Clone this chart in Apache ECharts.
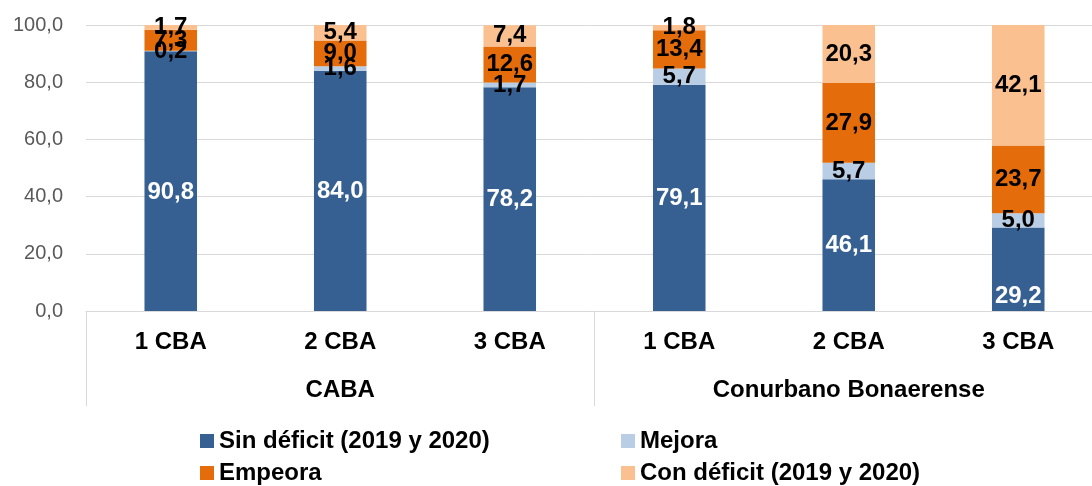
<!DOCTYPE html>
<html>
<head>
<meta charset="utf-8">
<script src="https://cdn.jsdelivr.net/npm/echarts@6/dist/echarts.min.js"></script>
<style>
html,body{margin:0;padding:0;background:#fff;}
#box{width:1092px;height:486px;}
</style>
</head>
<body>
<div id="box"></div>
<script>
// datos
var categorias = ['1 CBA', '2 CBA', '3 CBA', '1 CBA', '2 CBA', '3 CBA'];
var grupos = ['CABA', 'Conurbano Bonaerense'];
var sinDeficit = [90.8, 84.0, 78.2, 79.1, 46.1, 29.2];
var mejora = [0.2, 1.6, 1.7, 5.7, 5.7, 5.0];
var empeora = [7.3, 9.0, 12.6, 13.4, 27.9, 23.7];
var conDeficit = [1.7, 5.4, 7.4, 1.8, 20.3, 42.1];
var ticksY = [0, 20, 40, 60, 80, 100];

function coma(v) {
    return Number(v).toFixed(1).replace('.', ',');
}

var fuente = 'Liberation Sans, Arial, sans-serif';

function serie(nombre, datos, color, colorTexto) {
    return {
        name: nombre,
        type: 'bar',
        stack: 'total',
        barWidth: '31%',
        data: datos,
        itemStyle: { color: color },
        label: {
            show: true,
            position: 'inside',
            color: colorTexto,
            fontFamily: fuente,
            fontWeight: 'bold',
            fontSize: 24,
            formatter: function (p) { return coma(p.value); }
        }
    };
}

function leyenda(nombre, left, top) {
    return {
        data: [nombre],
        left: left,
        top: top,
        itemWidth: 14,
        itemHeight: 14,
        itemGap: 4,
        icon: 'rect',
        textStyle: { fontFamily: fuente, fontWeight: 'bold', fontSize: 24, color: '#000' }
    };
}

// el 29,2 y el 90,8 estan desplazados hacia abajo en el original
var sinData = sinDeficit.map(function (v, i) {
    if (i === 5) return { value: v, label: { offset: [0, 27] } };
    if (i === 0) return { value: v, label: { offset: [0, 11] } };
    return v;
});

var option = {
    animation: false,
    grid: { left: 86, top: 25, bottom: 175, width: 1017, outerBoundsMode: 'none', containLabel: false },
    legend: [
        leyenda('Sin déficit (2019 y 2020)', 195, 424),
        leyenda('Mejora', 616, 424),
        leyenda('Empeora', 195, 456),
        leyenda('Con déficit (2019 y 2020)', 616, 456)
    ],
    xAxis: [
        {
            type: 'category',
            data: categorias,
            axisLine: { lineStyle: { color: '#d9d9d9', width: 1 } },
            axisTick: { show: false },
            axisLabel: { color: '#000', fontFamily: fuente, fontWeight: 'bold', fontSize: 24, margin: 19, interval: 0 }
        },
        {
            type: 'category',
            data: grupos,
            position: 'bottom',
            axisLine: { show: false },
            axisTick: { show: true, length: 95, interval: 0, lineStyle: { color: '#d9d9d9' } },
            axisLabel: { color: '#000', fontFamily: fuente, fontWeight: 'bold', fontSize: 24, margin: 67, interval: 0 }
        }
    ],
    yAxis: {
        type: 'value',
        min: ticksY[0],
        max: ticksY[ticksY.length - 1],
        interval: 20,
        axisLine: { show: false },
        axisTick: { show: false },
        splitLine: { lineStyle: { color: '#d9d9d9' } },
        axisLabel: {
            color: '#595959',
            fontFamily: fuente,
            fontSize: 20,
            margin: 23,
            formatter: function (v) { return coma(v); }
        }
    },
    series: [
        serie('Sin déficit (2019 y 2020)', sinData, '#376092', '#fff'),
        serie('Mejora', mejora, '#b9cde5', '#000'),
        serie('Empeora', empeora, '#e46c0a', '#000'),
        serie('Con déficit (2019 y 2020)', conDeficit, '#fac090', '#000')
    ]
};

var chart = echarts.init(document.getElementById('box'));
chart.setOption(option);
</script>
</body>
</html>
